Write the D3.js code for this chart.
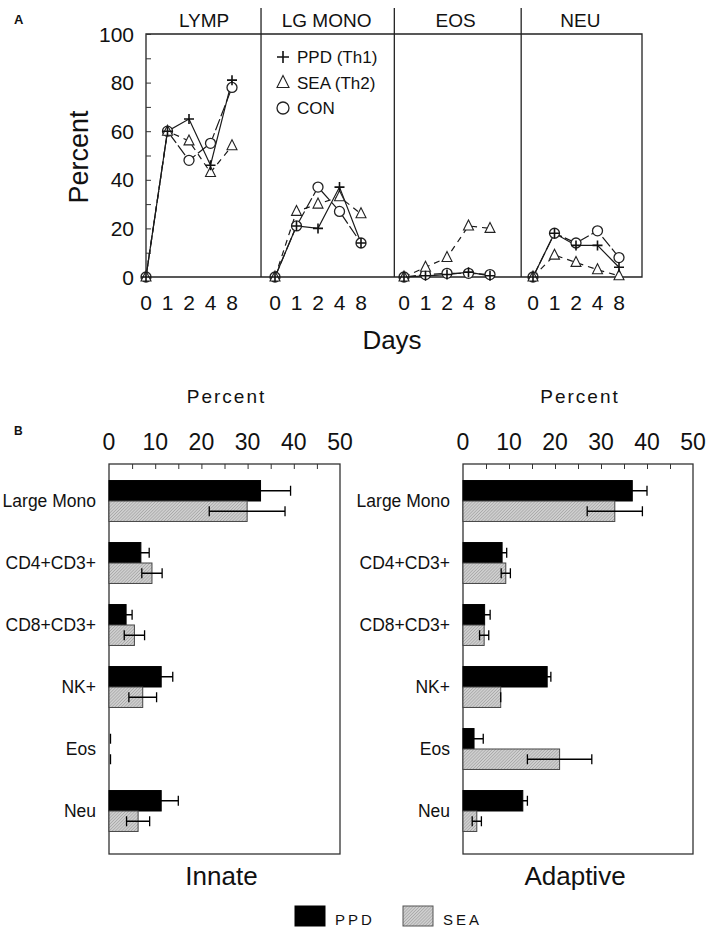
<!DOCTYPE html>
<html lang="en">
<head>
<meta charset="UTF-8">
<title>Leukocyte percentages</title>
<script src="https://d3js.org/d3.v7.min.js"></script>
<style>
  body { margin: 0; background: #fff; }
  svg text { font-family: "Liberation Sans", Arial, sans-serif; fill: #111; }
</style>
</head>
<body>
<svg id="chart" width="709" height="930"></svg>
<script>
// ---- Panel A data (percent by day) ----
const days = ["0", "1", "2", "4", "8"];
const cellTypes = ["LYMP", "LG MONO", "EOS", "NEU"];
const ppdLines = [[0, 60, 65, 46, 81], [0, 21, 20, 37, 14], [0, 0.5, 1, 2, 0.5], [0, 18, 13, 13, 4]];
const seaLines = [[0, 60, 56, 43, 54], [0, 27, 30, 33, 26], [0, 4, 8, 21, 20], [0, 9, 6, 3, 0.5]];
const conLines = [[0, 60, 48, 55, 78], [0, 21, 37, 27, 14], [0, 1, 1.5, 1.5, 1], [0, 18, 14, 19, 8]];
const yTicksA = [0, 20, 40, 60, 80, 100];
const legendA = ["PPD (Th1)", "SEA (Th2)", "CON"];

// ---- Panel B data ----
const categories = ["Large Mono", "CD4+CD3+", "CD8+CD3+", "NK+", "Eos", "Neu"];
const innatePPD = [32.8, 6.9, 3.7, 11.3, 0, 11.3];
const innatePPDErr = [6.5, 1.8, 1.3, 2.5, 0, 3.7];
const innateSEA = [29.9, 9.3, 5.5, 7.3, 0, 6.3];
const innateSEAErr = [8.2, 2.2, 2.2, 3.0, 0, 2.5];
const adaptivePPD = [36.8, 8.5, 4.7, 18.3, 2.4, 13.0];
const adaptivePPDErr = [3.2, 1.0, 1.2, 0.8, 2.0, 1.0];
const adaptiveSEA = [33.0, 9.3, 4.6, 8.2, 21.0, 3.0];
const adaptiveSEAErr = [6.0, 1.0, 1.0, 0, 7.0, 1.0];
const xTicksB = [0, 10, 20, 30, 40, 50];

const svg = d3.select("#chart");

// fine hatch pattern for SEA bars
const defs = svg.append("defs");
const pat = defs.append("pattern")
    .attr("id", "hatch")
    .attr("width", 2.2).attr("height", 2.2)
    .attr("patternUnits", "userSpaceOnUse")
    .attr("patternTransform", "rotate(45)");
pat.append("rect").attr("width", 2.2).attr("height", 2.2).attr("fill", "#cfcfcf");
pat.append("line").attr("x1", 0).attr("y1", 0).attr("x2", 0).attr("y2", 2.2)
    .attr("stroke", "#8f8f8f").attr("stroke-width", 0.9);

// ================= Panel A =================
// each cell type gets 6 slots (5 days + gap)
const slot = d3.scaleLinear().domain([0, 23]).range([146, 640.5]);
const yA = d3.scaleLinear().domain([0, 100]).range([277, 34]);
const dividers = [5.35, 11.55, 17.45];
const rightEdge = 23.07;
const titleSlot = [2.7, 8.4, 14.4, 20.2];

const gA = svg.append("g");

gA.append("text").attr("x", 14).attr("y", 24)
    .style("font-weight", "bold").style("font-size", "13px").text("A");

// frame
gA.append("path")
    .attr("d", `M${slot(0)},${yA(100)}H${slot(rightEdge)}V${yA(0)}H${slot(0)}Z`)
    .attr("fill", "none").attr("stroke", "#222").attr("stroke-width", 1.3);

dividers.forEach(s => {
  gA.append("line")
    .attr("x1", slot(s)).attr("x2", slot(s))
    .attr("y1", 8).attr("y2", yA(0))
    .attr("stroke", "#222").attr("stroke-width", 1.3);
});

cellTypes.forEach((c, p) => {
  gA.append("text").attr("x", slot(titleSlot[p])).attr("y", 27)
    .attr("text-anchor", "middle").style("font-size", "19px").text(c);
});

// y axis (ticks inside)
const yAxisA = d3.axisRight(yA).tickValues(d3.range(0, 101, 10)).tickSize(5).tickFormat("");
gA.append("g").attr("transform", `translate(${slot(0)},0)`).call(yAxisA)
  .call(g => g.select(".domain").remove())
  .call(g => g.selectAll("line").attr("stroke", "#333"));

yTicksA.forEach(v => {
  gA.append("text").attr("x", 134).attr("y", yA(v) + 7.5)
    .attr("text-anchor", "end").style("font-size", "21px").text(v);
});

gA.append("text")
  .attr("transform", `translate(88,157) rotate(-90)`)
  .attr("text-anchor", "middle").style("font-size", "27px").text("Percent");

// x labels per panel
cellTypes.forEach((c, p) => {
  days.forEach((d, i) => {
    gA.append("text").attr("x", slot(p * 6 + i)).attr("y", 310)
      .attr("text-anchor", "middle").style("font-size", "21px").text(d);
  });
});

gA.append("text").attr("x", 392).attr("y", 349)
  .attr("text-anchor", "middle").style("font-size", "26px").text("Days");

const lineA = d3.line().x(d => slot(d.s)).y(d => yA(d.v));
const series = [
  { vals: seaLines, dash: "6,5", mark: "tri" },
  { vals: conLines, dash: "12,3", mark: "circ" },
  { vals: ppdLines, dash: null, mark: "plus" }
];

function toPts(arr, p) { return arr.map((v, i) => ({ s: p * 6 + i, v: v })); }

series.forEach(sr => {
  sr.vals.forEach((arr, p) => {
    gA.append("path").datum(toPts(arr, p))
      .attr("d", lineA)
      .attr("fill", "none").attr("stroke", "#1a1a1a").attr("stroke-width", 1.2)
      .attr("stroke-dasharray", sr.dash);
  });
});

function drawMark(g, type, x, y, size) {
  const s = size || 5;
  if (type === "plus") {
    g.append("path").attr("d", `M${x - s},${y}H${x + s}M${x},${y - s}V${y + s}`)
      .attr("stroke", "#111").attr("stroke-width", 1.6).attr("fill", "none");
  } else if (type === "tri") {
    g.append("path").attr("d", `M${x},${y - s - 1}L${x + s},${y + s - 1}L${x - s},${y + s - 1}Z`)
      .attr("stroke", "#222").attr("stroke-width", 1.1).attr("fill", "#fff");
  } else {
    g.append("circle").attr("cx", x).attr("cy", y).attr("r", s)
      .attr("stroke", "#222").attr("stroke-width", 1.3).attr("fill", "#fff");
  }
}

["circ", "tri", "plus"].forEach(t => {
  const sr = series.find(q => q.mark === t);
  sr.vals.forEach((arr, p) => {
    toPts(arr, p).forEach(pt => drawMark(gA, t, slot(pt.s), yA(pt.v)));
  });
});

// legend inside LG MONO panel
const legMarks = ["plus", "tri", "circ"];
legendA.forEach((t, i) => {
  const ly = 57 + i * 25.5;
  drawMark(gA, legMarks[i], 283, ly, 6);
  gA.append("text").attr("x", 297).attr("y", ly + 6)
    .style("font-size", "17px").text(t);
});

// ================= Panel B =================
svg.append("text").attr("x", 14).attr("y", 435)
  .style("font-weight", "bold").style("font-size", "12px").text("B");

const yB = d3.scaleBand().domain(categories).range([470, 842])
  .paddingInner(0.34).paddingOuter(0.17);

function barChart(x0, x1, ppd, ppdErr, sea, seaErr, title, labelX) {
  const g = svg.append("g");
  const x = d3.scaleLinear().domain([0, 50]).range([x0, x1]);
  const top = 464, bottom = 854;
  const bh = yB.bandwidth() / 2;

  g.append("rect").attr("x", x0).attr("y", top).attr("width", x1 - x0).attr("height", bottom - top)
    .attr("fill", "none").attr("stroke", "#333").attr("stroke-width", 1.3);

  // ticks inside top edge
  const ax = d3.axisBottom(x).tickValues(d3.range(5, 50, 5)).tickSize(5).tickFormat("");
  g.append("g").attr("transform", `translate(0,${top})`).call(ax)
    .call(a => a.select(".domain").remove())
    .call(a => a.selectAll("line").attr("stroke", "#333"));

  xTicksB.forEach(v => {
    g.append("text").attr("x", x(v)).attr("y", 450).attr("text-anchor", "middle")
      .style("font-size", "23px").text(v);
  });

  g.append("text").attr("x", (x0 + x1) / 2 + 2).attr("y", 403).attr("text-anchor", "middle")
    .style("font-size", "19px").style("letter-spacing", "2px").text("Percent");

  categories.forEach((c, i) => {
    g.append("text").attr("x", labelX).attr("y", yB(c) + bh + 6)
      .attr("text-anchor", "end").style("font-size", "17.5px").text(c);
  });

  const rows = [
    { vals: ppd, errs: ppdErr, off: 0, fill: "#000", stroke: "#000" },
    { vals: sea, errs: seaErr, off: bh, fill: "url(#hatch)", stroke: "#444" }
  ];
  rows.forEach(r => {
    categories.forEach((c, i) => {
      const v = r.vals[i], e = r.errs[i];
      const y0 = yB(c) + r.off;
      if (v > 0) {
        g.append("rect").attr("x", x(0)).attr("y", y0).attr("width", x(v) - x(0)).attr("height", bh)
          .attr("fill", r.fill).attr("stroke", r.stroke).attr("stroke-width", 1);
      }
      const cy = y0 + bh / 2;
      const lo = x(Math.max(0, v - e)), hi = x(v + e);
      const cap = 5;
      g.append("path")
        .attr("d", `M${lo},${cy}H${hi}M${lo},${cy - cap}V${cy + cap}M${hi},${cy - cap}V${cy + cap}`)
        .attr("stroke", "#000").attr("stroke-width", 1.3).attr("fill", "none")
        .attr("transform", v === 0 ? "translate(1.5,0)" : null);
    });
  });

  g.append("text").attr("x", (x0 + x1) / 2 - 3).attr("y", 885).attr("text-anchor", "middle")
    .style("font-size", "26px").text(title);
}

barChart(109, 340, innatePPD, innatePPDErr, innateSEA, innateSEAErr, "Innate", 96);
barChart(463, 693, adaptivePPD, adaptivePPDErr, adaptiveSEA, adaptiveSEAErr, "Adaptive", 450);

// legend B
const legB = [{ t: "PPD", fill: "#000", stroke: "#000", x: 295 }, { t: "SEA", fill: "url(#hatch)", stroke: "#555", x: 403 }];
legB.forEach(l => {
  svg.append("rect").attr("x", l.x).attr("y", 906).attr("width", 30).attr("height", 20)
    .attr("fill", l.fill).attr("stroke", l.stroke);
  svg.append("text").attr("x", l.x + 40).attr("y", 925)
    .style("font-size", "15px").style("letter-spacing", "3px").text(l.t);
});
</script>
</body>
</html>
